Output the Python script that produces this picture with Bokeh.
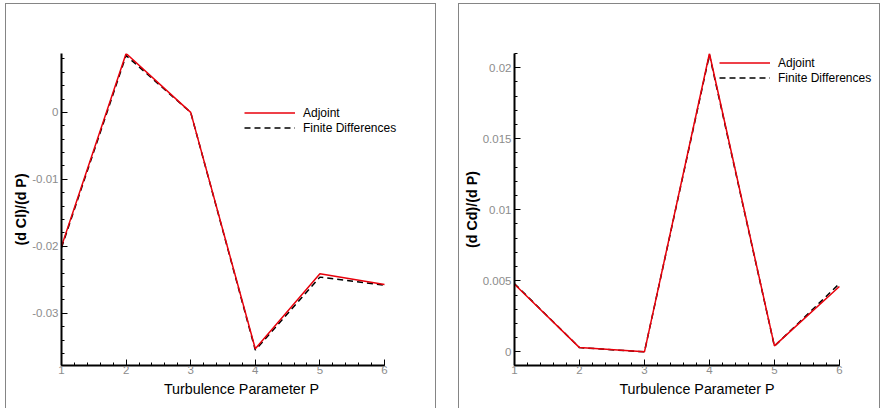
from bokeh.plotting import figure
from bokeh.layouts import row
from bokeh.models import Range1d, SingleIntervalTicker, CustomJSTickFormatter, Legend, LegendItem
from bokeh.embed import file_html
from bokeh.resources import INLINE

# ---- data ----
P = [1, 2, 3, 4, 5, 6]
cl_adjoint = [-0.0200, 0.0088, 0.0000, -0.0353, -0.0241, -0.0257]
cl_fd = [-0.0202, 0.0085, 0.0000, -0.0355, -0.0246, -0.0258]
cd_adjoint = [0.00476, 0.00030, 0.00000, 0.02100, 0.00042, 0.00460]
cd_fd = [0.00480, 0.00030, 0.00000, 0.02090, 0.00040, 0.00480]

x_label = "Turbulence Parameter P"
y_label_cl = "(d Cl)/(d P)"
y_label_cd = "(d Cd)/(d P)"
series_names = ["Adjoint", "Finite Differences"]

FONT = "Liberation Sans"
RED = "#e8000b"

fmt = CustomJSTickFormatter(code="return String(Number(tick.toFixed(6)));")

H = 405
TOP = 49
FRAME_H = 312


def make_panel(width, bl, br, xmax, ydata_a, ydata_f, yr, yint, ylabel, leg_loc):
    p = figure(width=width, height=H, output_backend="svg", toolbar_location=None,
               x_range=Range1d(1, xmax), y_range=Range1d(*yr),
               min_border_left=bl, min_border_right=br, min_border_top=TOP,
               min_border_bottom=H - TOP - FRAME_H)
    p.styles = {"border-top": "1px solid #858585", "border-left": "1px solid #858585",
                "border-right": "1px solid #858585", "box-sizing": "border-box"}
    p.xgrid.visible = False
    p.ygrid.visible = False
    p.outline_line_color = None
    p.background_fill_color = "white"
    p.border_fill_color = "white"

    r_fd = p.line(P, ydata_f, line_color="black", line_width=1.5, line_dash="6 4")
    r_ad = p.line(P, ydata_a, line_color=RED, line_width=1.5)

    p.xaxis.ticker = SingleIntervalTicker(interval=1, num_minor_ticks=5)
    p.xaxis.bounds = (1, 6)
    p.yaxis.ticker = SingleIntervalTicker(interval=yint, num_minor_ticks=5)
    p.yaxis.formatter = fmt
    for ax in (p.xaxis[0], p.yaxis[0]):
        ax.axis_line_color = "black"
        ax.axis_line_width = 2
        ax.major_tick_in = 6
        ax.major_tick_out = 0
        ax.minor_tick_in = 3
        ax.minor_tick_out = 0
        ax.major_tick_line_color = "black"
        ax.minor_tick_line_color = "black"
        ax.major_label_text_font = FONT
        ax.major_label_text_font_size = "11.5px"
        ax.major_label_text_color = "#8c8c8c"
        ax.axis_label_text_font = FONT
        ax.axis_label_text_font_size = "14.3px"
        ax.axis_label_text_color = "black"
    p.xaxis.axis_label = x_label
    p.xaxis.axis_label_text_font_style = "normal"
    p.yaxis.axis_label = ylabel
    p.yaxis.axis_label_text_font_style = "bold"
    p.xaxis.major_label_standoff = 0
    p.xaxis.axis_label_standoff = 4
    p.yaxis.major_label_standoff = 3
    p.yaxis.axis_label_standoff = 0

    legend = Legend(items=[LegendItem(label=series_names[0], renderers=[r_ad]),
                           LegendItem(label=series_names[1], renderers=[r_fd])],
                    location=leg_loc, border_line_color=None, background_fill_alpha=0,
                    glyph_width=51, glyph_height=15, label_height=15, spacing=0,
                    padding=0, margin=0, label_standoff=8,
                    label_text_font=FONT, label_text_font_size="12px", label_text_color="black")
    p.add_layout(legend)
    return p


# frame: left panel P=1..6 -> x 61..384 (frame to 421); right panel P=1..6 -> x 514..838 (frame to 877)
p1 = make_panel(431, 55, 16, 6 + 37 / 64.6, cl_adjoint, cl_fd, (-0.0378, 0.0088), 0.01, y_label_cl, (183, 230))
p2 = make_panel(422, 55, 2, 6 + 40 / 64.8, cd_adjoint, cd_fd, (-0.00096, 0.0210), 0.005, y_label_cd, (205, 280))

layout = row(p1, p2, spacing=22, margin=(3, 0, 0, 5))
open("out.html", "w").write(file_html(layout, INLINE))
